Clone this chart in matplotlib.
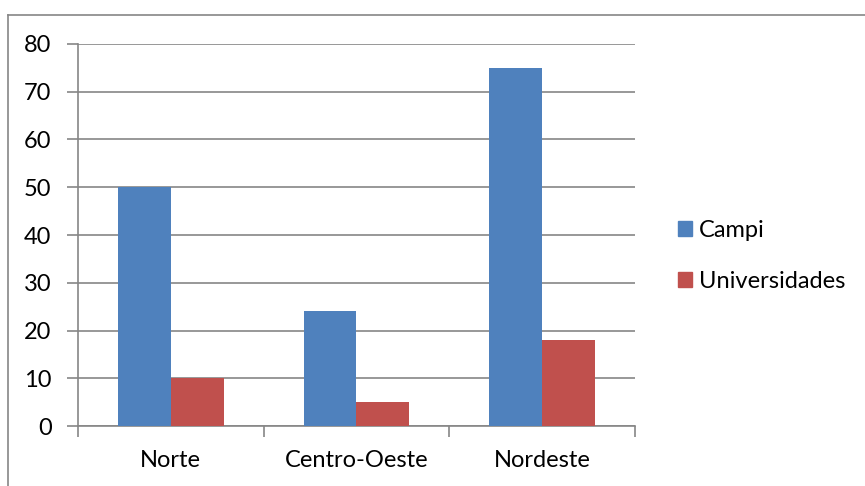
import matplotlib
matplotlib.use('Agg')
import matplotlib.pyplot as plt
from matplotlib.patches import Patch
from matplotlib.lines import Line2D
import numpy as np

regioes = ['Norte', 'Centro-Oeste', 'Nordeste']
campi = [50, 24, 75]
universidades = [10, 5, 18]
series_names = ['Campi', 'Universidades']

blue = '#4F81BD'
red = '#C0504D'
grey = '#868686'

plt.rcParams['font.family'] = ['Lato', 'DejaVu Sans']
fs = 17

W, H = 865, 486
fig = plt.figure(figsize=(W / 100, H / 100), dpi=100)
ax = fig.add_axes([78 / W, 1 - 426 / H, (635 - 78) / W, (426 - 44) / H])

x = np.arange(len(regioes))
w = 0.285
ax.bar(x - w / 2, campi, w, color=blue, zorder=3)
ax.bar(x + w / 2, universidades, w, color=red, zorder=3)

ax.set_xlim(-0.5, 2.5)
ax.set_ylim(0, 80)
ax.set_yticks(range(0, 81, 10))
ax.yaxis.grid(True, color=grey, lw=1.2, zorder=0)
for s in ['top', 'right']:
    ax.spines[s].set_visible(False)
for s in ['left', 'bottom']:
    ax.spines[s].set_color(grey)
    ax.spines[s].set_linewidth(1.2)
ax.tick_params(axis='y', length=8, width=1.2, color=grey, labelsize=fs, pad=11)
# category boundaries as ticks, labels at centres
ax.set_xticks([-0.5, 0.5, 1.5, 2.5])
ax.set_xticklabels([])
ax.set_xticks(x, minor=True)
ax.set_xticklabels(regioes, minor=True)
ax.tick_params(axis='x', which='major', length=8, width=1.2, color=grey)
ax.tick_params(axis='x', which='minor', length=0, labelsize=fs, pad=17)

handles = [Patch(color=blue), Patch(color=red)]
fig.legend(handles, series_names, loc='center left', bbox_to_anchor=(678 / W, 1 - 256 / H),
           frameon=False, fontsize=fs, handlelength=0.6, handleheight=0.6,
           handletextpad=0.3, labelspacing=1.25, borderaxespad=0, borderpad=0)

# chart border
fig.add_artist(Line2D([8 / W, 8 / W], [0, 1 - 15 / H], color=grey, lw=1.2, transform=fig.transFigure))
fig.add_artist(Line2D([8 / W, 1], [1 - 15 / H, 1 - 15 / H], color=grey, lw=1.2, transform=fig.transFigure))

fig.savefig('out.png', dpi=100)
